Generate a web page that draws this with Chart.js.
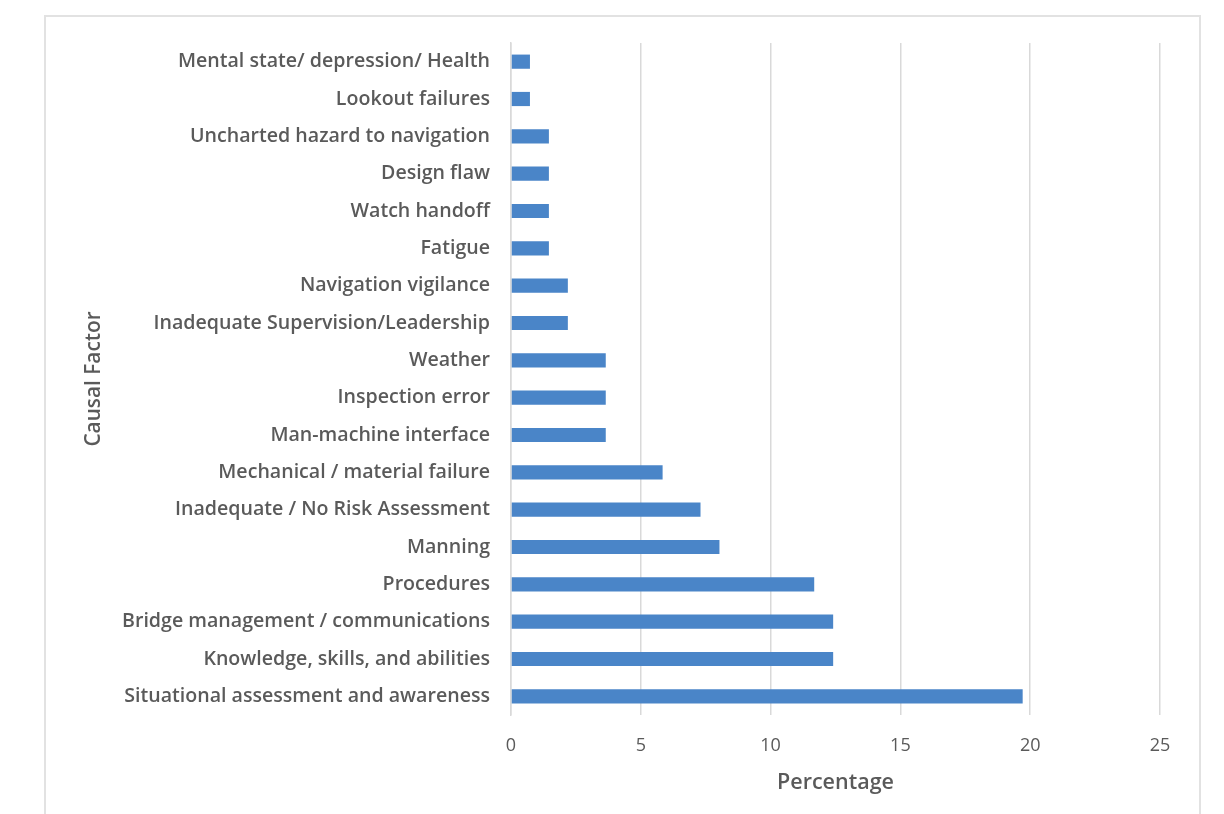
<!DOCTYPE html>
<html>
<head>
<meta charset="utf-8">
<script src="https://cdn.jsdelivr.net/npm/chart.js@4.4.1/dist/chart.umd.min.js"></script>
<style>
  html, body { margin: 0; padding: 0; background: #ffffff; width: 1224px; height: 814px; overflow: hidden; }
  #frame { position: absolute; left: 44px; top: 15px; width: 1157px; height: 820px;
           border: 2px solid #e2e2e2; box-sizing: border-box; }
  #wrap { position: absolute; left: 0; top: 0; width: 1224px; height: 814px; }
</style>
</head>
<body>
<div id="frame"></div>
<div id="wrap"><canvas id="c" width="1224" height="814"></canvas></div>
<script>
const categories = [
  "Mental state/ depression/ Health",
  "Lookout failures",
  "Uncharted hazard to navigation",
  "Design flaw",
  "Watch handoff",
  "Fatigue",
  "Navigation vigilance",
  "Inadequate Supervision/Leadership",
  "Weather",
  "Inspection error",
  "Man-machine interface",
  "Mechanical / material failure",
  "Inadequate / No Risk Assessment",
  "Manning",
  "Procedures",
  "Bridge management / communications",
  "Knowledge, skills, and abilities",
  "Situational assessment and awareness"
];
const percentages = [0.73, 0.73, 1.46, 1.46, 1.46, 1.46, 2.19, 2.19, 3.65, 3.65, 3.65, 5.84, 7.30, 8.03, 11.68, 12.41, 12.41, 19.71];
const xTicks = [0, 5, 10, 15, 20, 25];
const xAxisTitle = "Percentage";
const yAxisTitle = "Causal Factor";

const FONT = "'Open Sans', 'Liberation Sans', sans-serif";
const TEXT = "#5a5a5a";

new Chart(document.getElementById('c'), {
  type: 'bar',
  data: {
    labels: categories,
    datasets: [{
      data: percentages,
      backgroundColor: '#4a85c8',
      borderWidth: 0,
      categoryPercentage: 1.0,
      barPercentage: 0.38
    }]
  },
  options: {
    indexAxis: 'y',
    responsive: false,
    animation: false,
    layout: { padding: { top: 43, right: 64, left: 0, bottom: 0 } },
    plugins: { legend: { display: false }, tooltip: { enabled: false } },
    scales: {
      x: {
        min: 0, max: 25,
        afterBuildTicks: s => { s.ticks = xTicks.map(v => ({ value: v })); },
        afterFit: s => { s.height = 99; },
        grid: { color: '#d9d9d9', lineWidth: 1.5, drawTicks: false },
        border: { display: false },
        ticks: { color: TEXT, font: { family: FONT, size: 18 }, padding: 20 },
        title: { display: true, text: xAxisTitle, color: TEXT,
                 font: { family: FONT, size: 21.5, weight: '600' }, padding: { top: 0, bottom: 18 } }
      },
      y: {
        afterFit: s => { s.width = 511; },
        grid: { display: false, drawTicks: false },
        border: { display: true, color: '#d9d9d9', width: 1.5 },
        ticks: { color: TEXT, font: { family: FONT, size: 19.6, weight: '600' }, padding: 21, autoSkip: false },
        title: { display: true, text: yAxisTitle, color: TEXT,
                 font: { family: FONT, size: 20.8, weight: '600' }, padding: { top: 82, bottom: 0 } }
      }
    }
  }
});
</script>
</body>
</html>
